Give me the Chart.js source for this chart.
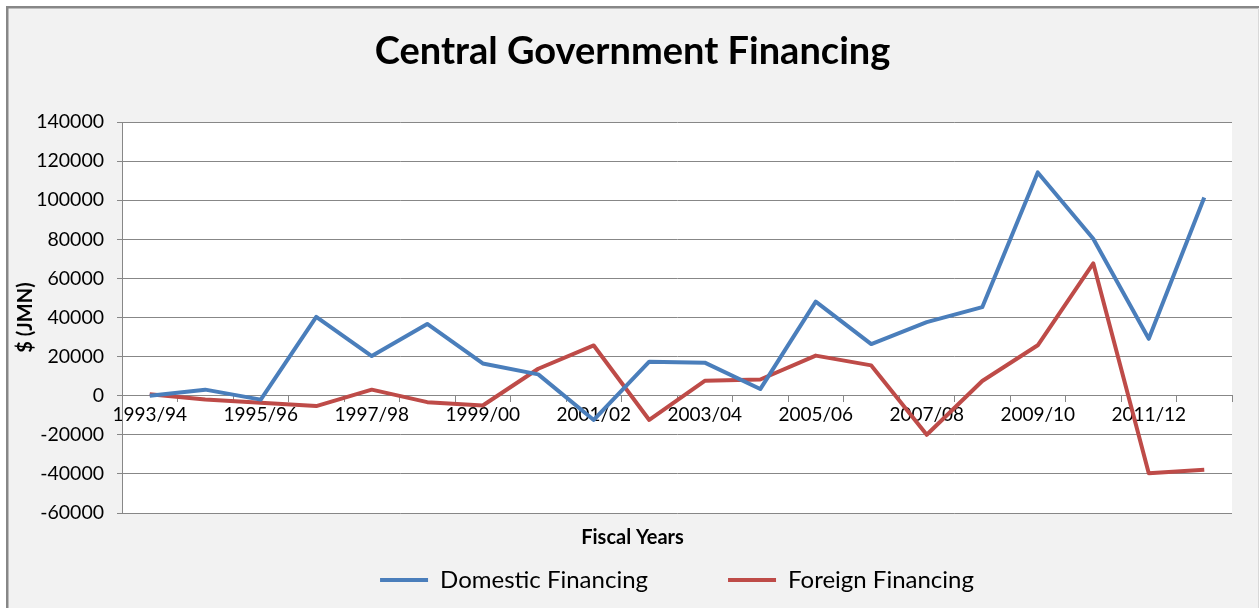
<!DOCTYPE html>
<html>
<head>
<meta charset="utf-8">
<script src="https://cdn.jsdelivr.net/npm/chart.js@4/dist/chart.umd.min.js"></script>
<style>
  html, body { margin: 0; padding: 0; background: #fff; }
  #wrap { width: 1259px; height: 608px; position: relative; }
</style>
</head>
<body>
<div id="wrap"><canvas id="myChart" width="1259" height="608"></canvas></div>
<script>
// fiscal years
const years = ['1993/94', '1994/95', '1995/96', '1996/97', '1997/98', '1998/99', '1999/00', '2000/01',
  '2001/02', '2002/03', '2003/04', '2004/05', '2005/06', '2006/07', '2007/08', '2008/09',
  '2009/10', '2010/11', '2011/12', '2012/13'];

// $ (JMN)
const domestic = [0, 3100, -2000, 40300, 20300, 36700, 16500, 10900, -12400, 17400,
  16900, 3400, 48100, 26400, 37600, 45300, 114200, 80300, 29100, 101400];
const foreign = [700, -1900, -3600, -5300, 3100, -3300, -5000, 13800, 25700, -12400,
  7600, 8300, 20500, 15500, -20000, 7500, 25800, 67700, -39700, -37900];

const yMin = -60000, yMax = 140000, yStep = 20000;

const gridCol = '#878787';
const font = 'Lato, "Open Sans", sans-serif';

// grey chart background with the border on top/left like the excel export
const bgPlugin = {
  id: 'bg',
  beforeDraw: (chart) => {
    const ctx = chart.ctx;
    ctx.save();
    ctx.fillStyle = '#fff';
    ctx.fillRect(0, 0, chart.width, chart.height);
    ctx.fillStyle = '#f2f2f2';
    ctx.fillRect(6, 6, chart.width - 6, chart.height - 6);
    ctx.fillStyle = '#878787';
    ctx.fillRect(6, 6, chart.width - 6, 2.5);
    ctx.fillRect(6, 6, 2.5, chart.height - 6);
    ctx.fillStyle = '#d9d9d9';
    ctx.fillRect(chart.width - 1, 8, 1, chart.height - 8);
    const a = chart.chartArea;
    ctx.fillStyle = '#fff';
    ctx.fillRect(a.left, a.top, a.right - a.left, a.bottom - a.top);
    ctx.restore();
  }
};

const chartElement = document.getElementById('myChart');
const myChart = new Chart(chartElement, {
  type: 'line',
  data: {
    labels: years,
    datasets: [{
      label: 'Domestic Financing',
      data: domestic,
      borderColor: '#4a7ebb',
      backgroundColor: '#4a7ebb',
      borderWidth: 4,
      pointRadius: 0,
      tension: 0,
      borderJoinStyle: 'round'
    }, {
      label: 'Foreign Financing',
      data: foreign,
      borderColor: '#be4b48',
      backgroundColor: '#be4b48',
      borderWidth: 4,
      pointRadius: 0,
      tension: 0,
      borderJoinStyle: 'round'
    }]
  },
  plugins: [bgPlugin],
  options: {
    responsive: false,
    animation: false,
    // left padding is larger so the title lands centred like excel's
    layout: { padding: { left: 33, right: 27, top: 0, bottom: 6 } },
    scales: {
      x: {
        position: { y: 0 },
        offset: true,
        grid: {
          drawOnChartArea: false,
          offset: true,
          color: gridCol,
          tickLength: 6
        },
        border: { color: gridCol },
        ticks: {
          autoSkip: false,
          maxRotation: 0,
          padding: 2,
          color: '#000',
          font: { family: font, size: 19 },
          callback: function (val, i) { return i % 2 === 0 ? this.getLabelForValue(val) : ''; }
        }
      },
      y: {
        min: yMin,
        max: yMax,
        afterFit: (scale) => { scale.width = 89; },
        grid: { color: gridCol, tickLength: 5 },
        border: { color: gridCol },
        ticks: {
          stepSize: yStep,
          padding: 13,
          color: '#000',
          font: { family: font, size: 19.5 },
          callback: (v) => String(v)
        },
        title: {
          display: true,
          text: '$ (JMN)',
          color: '#000',
          padding: { top: -19, bottom: 0 },
          font: { family: font, size: 20, weight: 'bold' }
        }
      }
    },
    plugins: {
      title: {
        display: true,
        text: 'Central Government Financing',
        color: '#000',
        padding: { top: 29, bottom: 47.4 },
        font: { family: font, size: 38, weight: 'bold' }
      },
      subtitle: {
        display: true,
        position: 'bottom',
        weight: 500,
        text: 'Fiscal Years',
        color: '#000',
        padding: { top: 13, bottom: 4 },
        font: { family: font, size: 20, weight: 'bold' }
      },
      legend: {
        position: 'bottom',
        fullSize: false,
        labels: {
          usePointStyle: true,
          pointStyle: 'line',
          pointStyleWidth: 48,
          padding: 14,
          color: '#000',
          font: { family: font, size: 24 },
          generateLabels: (chart) => {
            const items = Chart.defaults.plugins.legend.labels.generateLabels(chart);
            items[0].text = items[0].text + '\u2003\u2003\u2003\u2002';
            return items;
          }
        }
      },
      tooltip: { enabled: false }
    }
  }
});
</script>
</body>
</html>
